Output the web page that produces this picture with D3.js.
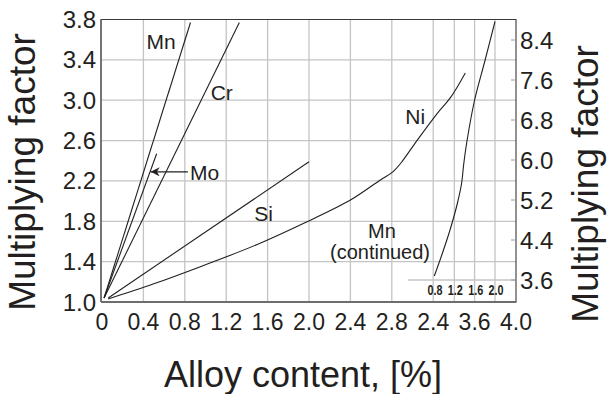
<!DOCTYPE html>
<html>
<head>
<meta charset="utf-8">
<script src="https://cdn.jsdelivr.net/npm/d3@7"></script>
<style>
  body { margin: 0; background: #fff; }
  text { font-family: "Liberation Sans", Arial, sans-serif; fill: #231f20; }
</style>
</head>
<body>
<div class="d3-container"></div>
<script>
// values, [alloy %, factor]
const mnData = [[0.02, 1.04], [0.855, 3.77]];
const crData = [[0.02, 1.04], [1.327, 3.77]];
const moData = [[0.02, 1.04], [0.528, 2.47]];
const siData = [[0.06, 1.04], [2.0, 2.39]];
const niData = [[0.06, 1.03], [0.5, 1.18], [0.95, 1.35], [1.5, 1.57], [1.95, 1.78],
  [2.40, 2.01], [2.69, 2.21], [2.81, 2.29], [2.89, 2.38], [3.05, 2.61], [3.24, 2.87], [3.37, 3.03], [3.51, 3.27]];
// Mn continued: inset x scale (0.8 - 2.0) against the right axis
const mnContData = [[0.806, 3.68], [0.96, 4.12], [1.115, 4.60], [1.259, 5.13], [1.342, 5.53],
  [1.386, 5.93], [1.452, 6.40], [1.599, 7.20], [1.806, 8.00], [2.0, 8.77]];

const xTicks = [0, 0.4, 0.8, 1.2, 1.6, 2.0, 2.4, 2.8, 3.2, 3.6, 4.0];
const xTickLabels = ["0", "0.4", "0.8", "1.2", "1.6", "2.0", "2.4", "2.8", "2.4", "3.6", "4.0"];
const yLeftTicks = [1.0, 1.4, 1.8, 2.2, 2.6, 3.0, 3.4, 3.8];
const yRightTicks = [3.6, 4.4, 5.2, 6.0, 6.8, 7.6, 8.4];
const insetTicks = [0.8, 1.2, 1.6, 2.0];

const curveLabels = [
  {text: "Mn", x: 0.43, y: 3.51},
  {text: "Cr", x: 1.05, y: 3.0},
  {text: "Si", x: 1.47, y: 1.8},
  {text: "Ni", x: 2.93, y: 2.76},
  {text: "Mo", x: 0.85, y: 2.21}
];

const width = 608, height = 394;
const pLeft = 101, pRight = 516, pTop = 19.5, pBottom = 302;

const x = d3.scaleLinear().domain([0, 4]).range([102, 516]);
const yL = d3.scaleLinear().domain([1.0, 3.8]).range([pBottom, pTop]);
const yR = d3.scaleLinear().domain([3.6, 8.4]).range([280, 40]);
const xIn = d3.scaleLinear().domain([0.8, 2.0]).range([434, 495]);

const svg = d3.select(".d3-container").append("svg")
  .attr("width", width)
  .attr("height", height);

svg.append("defs").append("marker")
  .attr("id", "arrow")
  .attr("viewBox", "0 0 10 10")
  .attr("refX", 10).attr("refY", 5)
  .attr("markerWidth", 14).attr("markerHeight", 9)
  .attr("markerUnits", "userSpaceOnUse")
  .attr("orient", "auto-start-reverse")
  .append("path")
  .attr("d", "M0,0L10,5L0,10L3,5z")
  .style("fill", "#231f20");

// grid
const grid = svg.append("g");
grid.selectAll(".vg")
  .data(xTicks.slice(1, -1))
  .enter().append("line")
  .attr("x1", (d) => x(d)).attr("x2", (d) => x(d))
  .attr("y1", pTop).attr("y2", pBottom)
  .style("stroke", "#c4c4c4").style("stroke-width", 1.3);
grid.selectAll(".vgi")
  .data([1.2, 2.0])
  .enter().append("line")
  .attr("x1", (d) => xIn(d)).attr("x2", (d) => xIn(d))
  .attr("y1", pTop).attr("y2", pBottom)
  .style("stroke", "#c4c4c4").style("stroke-width", 1.3);
grid.selectAll(".hg")
  .data(yLeftTicks.slice(1, -1))
  .enter().append("line")
  .attr("x1", pLeft).attr("x2", pRight)
  .attr("y1", (d) => yL(d)).attr("y2", (d) => yL(d))
  .style("stroke", "#c4c4c4").style("stroke-width", 1.3);

// inset baseline
svg.append("line")
  .attr("x1", 408).attr("x2", pRight)
  .attr("y1", yR(3.6)).attr("y2", yR(3.6))
  .style("stroke", "#c4c4c4").style("stroke-width", 1.3);

// frame
svg.append("path")
  .attr("d", "M" + pLeft + "," + pBottom + "V" + pTop + "H" + pRight + "V" + pBottom)
  .style("fill", "none").style("stroke", "#3a3a3a").style("stroke-width", 1.1);
svg.append("line")
  .attr("x1", pLeft).attr("x2", pRight + 0.5)
  .attr("y1", pBottom).attr("y2", pBottom)
  .style("stroke", "#6d6d6d").style("stroke-width", 2);
svg.append("line")
  .attr("x1", pLeft).attr("x2", pLeft)
  .attr("y1", pTop).attr("y2", pBottom)
  .style("stroke", "#6d6d6d").style("stroke-width", 1.6);

// right axis ticks (pointing in)
svg.selectAll(".rt")
  .data(yRightTicks)
  .enter().append("line")
  .attr("x1", pRight - 5).attr("x2", pRight)
  .attr("y1", (d) => yR(d)).attr("y2", (d) => yR(d))
  .style("stroke", "#9a9a9a");

// tick labels
svg.selectAll(".xl")
  .data(xTicks)
  .enter().append("text")
  .attr("x", (d) => x(d))
  .attr("y", 329.5)
  .attr("text-anchor", "middle")
  .attr("font-size", "23px")
  .text((d, i) => xTickLabels[i]);

svg.selectAll(".yl")
  .data(yLeftTicks)
  .enter().append("text")
  .attr("x", 96)
  .attr("y", (d) => yL(d) + 8.5)
  .attr("text-anchor", "end")
  .attr("font-size", "24px")
  .text((d) => d3.format(".1f")(d));

svg.selectAll(".yr")
  .data(yRightTicks)
  .enter().append("text")
  .attr("x", 520)
  .attr("y", (d) => yR(d) + 8.5)
  .attr("font-size", "24px")
  .text((d) => d3.format(".1f")(d));

svg.selectAll(".il")
  .data(insetTicks)
  .enter().append("text")
  .attr("x", (d) => xIn(d) + 1)
  .attr("y", 295.5)
  .attr("text-anchor", "middle")
  .attr("font-size", "15px")
  .attr("font-weight", "bold")
  .attr("transform-origin", (d) => (xIn(d) + 1) + "px 295px")
  .attr("transform", "scale(0.72,1)")
  .text((d) => d3.format(".1f")(d));

// curves
var line = d3.line()
  .x((d) => x(d[0]))
  .y((d) => yL(d[1]));
var smooth = d3.line()
  .x((d) => x(d[0]))
  .y((d) => yL(d[1]))
  .curve(d3.curveCatmullRom);
var inset = d3.line()
  .x((d) => xIn(d[0]))
  .y((d) => yR(d[1]))
  .curve(d3.curveCatmullRom);

[mnData, crData, moData, siData].forEach((data) => {
  svg.append("path")
    .attr("d", line(data))
    .style("fill", "none").style("stroke", "#231f20").style("stroke-width", 1.1);
});
svg.append("path")
  .attr("d", smooth(niData))
  .style("fill", "none").style("stroke", "#231f20").style("stroke-width", 1.1);
svg.append("path")
  .attr("d", inset(mnContData))
  .style("fill", "none").style("stroke", "#231f20").style("stroke-width", 1.1);

// Mo pointer
svg.append("line")
  .attr("x1", x(0.83)).attr("y1", yL(2.29))
  .attr("x2", x(0.47)).attr("y2", yL(2.29))
  .style("stroke", "#231f20").style("stroke-width", 1.2)
  .attr("marker-end", "url(#arrow)");

svg.selectAll(".cl")
  .data(curveLabels)
  .enter().append("text")
  .attr("x", (d) => x(d.x))
  .attr("y", (d) => yL(d.y))
  .attr("font-size", "21px")
  .text((d) => d.text);

svg.append("text")
  .attr("x", 382).attr("y", 237.5)
  .attr("text-anchor", "middle")
  .attr("font-size", "20px")
  .text("Mn");
svg.append("text")
  .attr("x", 380).attr("y", 258.5)
  .attr("text-anchor", "middle")
  .attr("font-size", "20px")
  .text("(continued)");

// axis titles
svg.append("text")
  .attr("transform", "translate(35,172) rotate(-90)")
  .attr("text-anchor", "middle")
  .attr("font-size", "37px")
  .text("Multiplying factor");
svg.append("text")
  .attr("transform", "translate(598,184) rotate(-90)")
  .attr("text-anchor", "middle")
  .attr("font-size", "37px")
  .text("Multiplying factor");
svg.append("text")
  .attr("x", 303).attr("y", 386.5)
  .attr("text-anchor", "middle")
  .attr("font-size", "36px")
  .text("Alloy content, [%]");
</script>
</body>
</html>
